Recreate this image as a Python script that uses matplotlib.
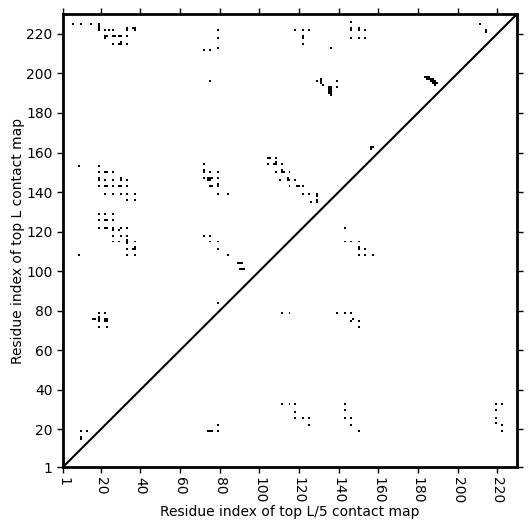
import matplotlib
matplotlib.use("Agg")
import matplotlib.pyplot as plt
import numpy as np

L = 230

# (residue i, residue j) pairs, above the diagonal
top_L_pairs = [
    (6, 225), (10, 225), (15, 225), (19, 225),
    (19, 224), (19, 223), (19, 222), (22, 222), (24, 222), (26, 222), (33, 222), (33, 223),
    (36, 223), (37, 223), (37, 222),
    (22, 219), (23, 219), (22, 218), (26, 219), (27, 219), (29, 219), (30, 219), (33, 219),
    (26, 215), (29, 215), (30, 215), (30, 216), (33, 215),
    (79, 222), (79, 218), (79, 213), (72, 212), (75, 212), (75, 196),
    (118, 222), (122, 222), (125, 222), (122, 219), (122, 218), (122, 215), (136, 213),
    (146, 226), (146, 223), (146, 222), (146, 218), (150, 223), (150, 222), (150, 218),
    (153, 222), (153, 218), (211, 225), (214, 222), (214, 221),
    (129, 196), (131, 197), (131, 196), (131, 195), (132, 194), (135, 193), (135, 192),
    (135, 191), (135, 190), (136, 193), (136, 192), (136, 191), (136, 190), (136, 189),
    (139, 196), (139, 193),
    (183, 198), (184, 198), (185, 198), (184, 197), (185, 197), (186, 197), (186, 196),
    (187, 196), (187, 197), (188, 196), (188, 195), (189, 195), (187, 195), (188, 194),
    (156, 163), (157, 163), (156, 162),
    (104, 157), (105, 157), (108, 157),
    (104, 154), (107, 154), (108, 154), (108, 155), (111, 154),
    (108, 150), (111, 150), (112, 150), (111, 151), (115, 150),
    (110, 146), (114, 146), (114, 147), (115, 146), (118, 146),
    (115, 143), (119, 143), (120, 143), (122, 143),
    (122, 139), (125, 139), (129, 139), (129, 138),
    (126, 135), (129, 135), (129, 136),
    (9, 153), (19, 153),
    (19, 150), (22, 150), (23, 150), (26, 150),
    (19, 147), (19, 146), (22, 146), (26, 146), (30, 147), (30, 146), (33, 146),
    (19, 143), (22, 143), (23, 143), (26, 143), (29, 143), (30, 143), (33, 143),
    (22, 139), (26, 139), (30, 139), (33, 139), (37, 139),
    (33, 136), (37, 136),
    (19, 129), (22, 129), (26, 129),
    (19, 126), (22, 126), (23, 126), (26, 126),
    (19, 122), (22, 122), (23, 122), (26, 122), (26, 121), (29, 121), (30, 122), (33, 122),
    (26, 118), (30, 118), (33, 118),
    (26, 115), (29, 115), (33, 115), (33, 116), (33, 114), (37, 115),
    (33, 111), (36, 111), (37, 111), (37, 112),
    (9, 108), (33, 108), (37, 108),
    (72, 154), (72, 151), (72, 150), (75, 150), (79, 150),
    (72, 147), (74, 147), (75, 147), (76, 147), (74, 146), (75, 146), (79, 147),
    (75, 143), (76, 143), (79, 143), (79, 144),
    (79, 139), (84, 139),
    (72, 118), (75, 118), (75, 115), (79, 115), (79, 111), (84, 108), (89, 104),
    (79, 84),
    (90, 104), (91, 104), (90, 101), (91, 101), (92, 101),
]

# pairs below the diagonal
top_L5_pairs = [
    (143, 122), (143, 115), (146, 115), (150, 115), (150, 112), (150, 111), (153, 111),
    (150, 108), (153, 108), (157, 108),
    (19, 79), (22, 79), (16, 76), (17, 76), (19, 77), (19, 76), (19, 75), (22, 76),
    (23, 76), (22, 75), (23, 75), (19, 72), (23, 72),
    (10, 19), (13, 19), (10, 16), (10, 15),
    (74, 19), (75, 19), (76, 19), (79, 19), (79, 22),
    (111, 79), (115, 79), (139, 79), (143, 79), (146, 79), (146, 75), (147, 76),
    (150, 75), (150, 72),
    (111, 33), (115, 33), (118, 33), (118, 29), (118, 26), (122, 26), (125, 26), (125, 22),
    (143, 33), (143, 30), (143, 26), (146, 26), (146, 22), (150, 19),
    (219, 33), (222, 33), (219, 30), (219, 26), (219, 23), (222, 22), (222, 19),
]

ticks = [1, 20, 40, 60, 80, 100, 120, 140, 160, 180, 200, 220]

cmap = np.zeros((L, L))
for i, j in top_L_pairs + top_L5_pairs:
    cmap[j - 1, i - 1] = 1

fig = plt.figure(figsize=(5.31, 5.31), dpi=100)
ax = fig.add_axes([0.1186, 0.1205, 0.855, 0.853])
ax.imshow(cmap, cmap='binary', origin='lower', interpolation='nearest',
          extent=(0.5, L + 0.5, 0.5, L + 0.5), aspect='auto', vmin=0, vmax=1)
ax.plot([1, L], [1, L], color='black', linewidth=1.5)
ax.set_xlim(1, L)
ax.set_ylim(1, L)

ax.set_xticks(ticks)
ax.set_yticks(ticks)
ax.set_xticklabels(ticks, rotation=270, fontsize=10)
ax.set_yticklabels(ticks, fontsize=10)
ax.tick_params(top=True, right=True, direction='out', length=4, width=1)
for s in ax.spines.values():
    s.set_linewidth(2)

ax.set_xlabel("Residue index of top L/5 contact map", fontsize=10, labelpad=1)
ax.set_ylabel("Residue index of top L contact map", fontsize=10, labelpad=1)

plt.savefig("out.png", dpi=100)
